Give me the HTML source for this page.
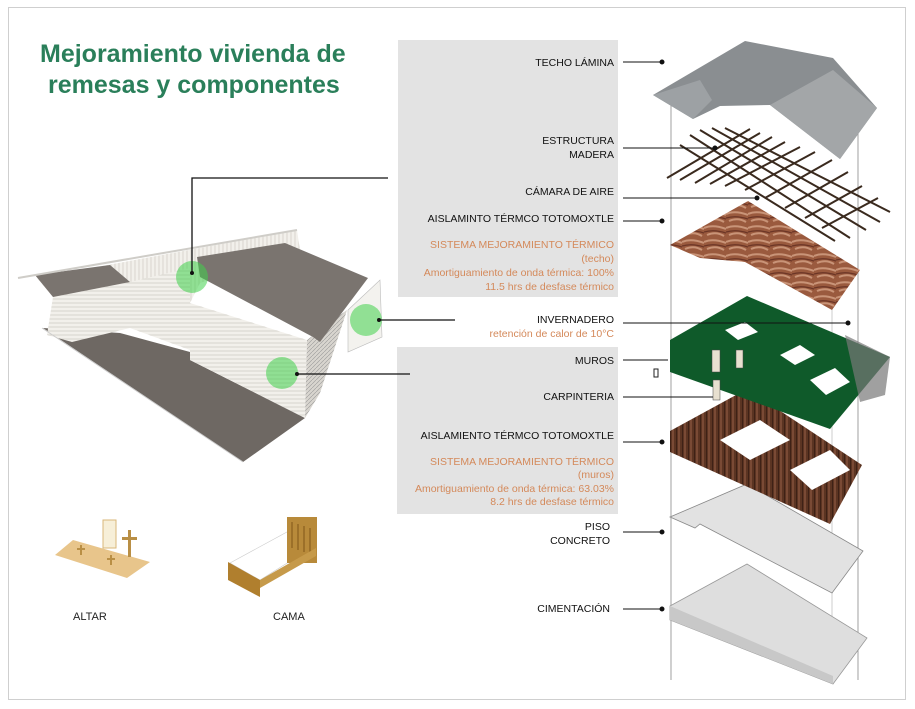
<!DOCTYPE html>
<html><head><meta charset="utf-8"><style>
html,body{margin:0;padding:0;background:#fff;width:915px;height:709px;overflow:hidden}
svg{display:block}
text{font-family:"Liberation Sans",Arial,sans-serif}
.l{font-size:10.5px;fill:#111;text-anchor:end}
.o{font-size:10.5px;fill:#d4895a;text-anchor:end}
</style></head><body>
<svg width="915" height="709" viewBox="0 0 915 709" xmlns="http://www.w3.org/2000/svg">
<defs>
<pattern id="siding" width="8" height="4" patternUnits="userSpaceOnUse"><rect width="8" height="4" fill="#f2f0eb"/><line x1="0" y1="3" x2="8" y2="3" stroke="#c4c0b8" stroke-width="0.6"/></pattern>
<pattern id="vsid" width="4" height="8" patternUnits="userSpaceOnUse"><rect width="4" height="8" fill="#f2f0eb"/><line x1="3" y1="0" x2="3" y2="8" stroke="#c8c4bc" stroke-width="0.6"/></pattern>
<pattern id="dsid" width="4" height="4" patternUnits="userSpaceOnUse"><rect width="4" height="4" fill="#d8d5cf"/><line x1="0" y1="4" x2="4" y2="0" stroke="#999" stroke-width="0.6"/></pattern>
<pattern id="wood" width="6" height="10" patternUnits="userSpaceOnUse"><rect width="6" height="10" fill="#5b3422"/><rect x="0" width="2" height="10" fill="#7a4a35"/><rect x="4" width="1" height="10" fill="#3e2116"/></pattern>
<pattern id="toto" width="22" height="14" patternUnits="userSpaceOnUse"><rect width="22" height="14" fill="#9a5a3e"/><path d="M0 4 Q9 0 22 5 M3 11 Q12 7 20 12" stroke="#c99478" stroke-width="2" fill="none"/><path d="M0 8 Q10 5 22 9" stroke="#6b3526" stroke-width="1.2" fill="none"/></pattern>
</defs>
<rect x="8.5" y="7.5" width="897" height="692" fill="#fff" stroke="#cfcfcf"/>
<text x="40" y="62" font-size="25" font-weight="bold" fill="#2a7f5a">Mejoramiento vivienda de</text>
<text x="48" y="93" font-size="25" font-weight="bold" fill="#2a7f5a">remesas y componentes</text>

<rect x="398" y="40" width="220" height="257" fill="#e3e3e3"/>
<rect x="397" y="347" width="221" height="167" fill="#e3e3e3"/>

<!-- house left -->
<polygon points="37,278 297,230 300,250 200,283 190,303 130,300 53,297" fill="url(#vsid)"/>
<polygon points="43,328 120,333 190,352 190,360 305,418 243,462" fill="#6e6863"/>
<polygon points="53,297 130,282 130,328 72,342 47,335" fill="url(#siding)"/>
<polygon points="130,282 190,268 190,350 130,328" fill="url(#siding)"/>
<polygon points="190,303 307,340 305,418 190,360" fill="url(#siding)"/>
<polygon points="307,340 347,310 320,393 305,418" fill="url(#dsid)"/>
<polygon points="348,310 380,280 382,337 348,352" fill="#f3f2ee" stroke="#bbb" stroke-width="0.6"/>
<polygon points="35,275 110,265 130,282 53,297" fill="#7a746f"/>
<line x1="18" y1="278" x2="297" y2="230" stroke="#cfcdc8" stroke-width="2"/>
<polygon points="197,257 285,243 368,278 320,342 313,337 200,277" fill="#7a746f"/>
<line x1="42" y1="328" x2="243" y2="462" stroke="#ccc" stroke-width="1"/>
<circle cx="192" cy="277" r="16" fill="#3fd14a" opacity="0.55"/>
<circle cx="366" cy="320" r="16" fill="#3fd14a" opacity="0.55"/>
<circle cx="282" cy="373" r="16" fill="#3fd14a" opacity="0.55"/>
<g stroke="#111" stroke-width="1.3" fill="none">
<polyline points="192,273 192,178 388,178"/>
<line x1="379" y1="320" x2="455" y2="320"/>
<line x1="297" y1="374" x2="410" y2="374"/>
</g>
<circle cx="192" cy="273" r="2" fill="#111"/><circle cx="379" cy="320" r="2" fill="#111"/><circle cx="297" cy="374" r="2" fill="#111"/>

<!-- altar -->
<polygon points="55,555 73,540 150,562 127,578" fill="#e8c58b"/>
<rect x="103" y="520" width="13" height="28" fill="#f7efd8" stroke="#d9b77a"/>
<rect x="128" y="530" width="3" height="27" fill="#b98f45"/><rect x="122" y="537" width="15" height="3" fill="#b98f45"/>
<rect x="80" y="545" width="2" height="10" fill="#b98f45"/><rect x="77" y="548" width="8" height="2" fill="#b98f45"/>
<rect x="110" y="555" width="2" height="10" fill="#b98f45"/><rect x="107" y="558" width="8" height="2" fill="#b98f45"/>
<text x="73" y="620" font-size="11" fill="#222">ALTAR</text>
<!-- bed -->
<polygon points="230,563 287,532 316,545 260,580" fill="#fff" stroke="#ccc" stroke-width="0.6"/>
<polygon points="228,562 260,580 260,597 228,580" fill="#b07f2e"/>
<rect x="287" y="517" width="30" height="46" fill="#b88a3a"/>
<g stroke="#8a5f1e" stroke-width="1.2"><line x1="292" y1="522" x2="292" y2="548"/><line x1="298" y1="524" x2="298" y2="550"/><line x1="304" y1="526" x2="304" y2="552"/><line x1="310" y1="528" x2="310" y2="554"/></g>
<polygon points="260,580 316,548 316,556 260,588" fill="#c69a4a"/>
<text x="273" y="620" font-size="11" fill="#222">CAMA</text>

<line x1="671" y1="95" x2="671" y2="680" stroke="#888" stroke-width="0.8"/>
<line x1="858" y1="120" x2="858" y2="680" stroke="#888" stroke-width="0.8"/>
<line x1="832" y1="300" x2="832" y2="684" stroke="#aaa" stroke-width="0.6"/>

<!-- foundation -->
<polygon points="670,606 747,564 867,638 833,684 670,620" fill="#dedede" stroke="#999" stroke-width="0.8"/>
<polygon points="670,606 670,620 833,684 833,676" fill="#c8c8c8"/>
<!-- floor -->
<polygon points="670,517 747,484 863,551 832,593 700,524 695,528" fill="#e2e2e2" stroke="#888" stroke-width="0.8"/>
<!-- walls -->
<polygon points="670,431 747,389 862,465 830,524 670,452" fill="url(#wood)"/>
<polygon points="720,440 760,420 790,440 750,460" fill="#fff"/>
<polygon points="790,470 830,450 850,470 812,490" fill="#fff"/>
<!-- green -->
<polygon points="670,340 747,296 890,357 830,429 670,372" fill="#0f5a2a"/>
<polygon points="845,335 890,357 885,395 860,402" fill="#777" opacity="0.7"/>
<polygon points="725,330 745,322 758,332 738,340" fill="#fff"/>
<polygon points="780,355 800,345 815,355 795,365" fill="#fff"/>
<polygon points="810,380 835,368 850,382 826,395" fill="#fff"/>
<rect x="712" y="350" width="8" height="22" fill="#e8e0d0" stroke="#444" stroke-width="0.5"/>
<rect x="736" y="350" width="7" height="18" fill="#e8e0d0" stroke="#444" stroke-width="0.5"/>
<rect x="713" y="380" width="7" height="20" fill="#e8e0d0" stroke="#444" stroke-width="0.5"/>
<rect x="654" y="369" width="4" height="8" fill="#fff" stroke="#222"/>
<!-- totomoxtle -->
<polygon points="670,245 748,201 860,270 832,310 745,262 700,258" fill="url(#toto)"/>
<!-- wood structure -->
<g stroke="#3a2a1e" stroke-width="2">
<line x1="690" y1="135" x2="850" y2="238"/><line x1="700" y1="130" x2="866" y2="230"/><line x1="712" y1="128" x2="880" y2="222"/><line x1="725" y1="128" x2="890" y2="212"/><line x1="680" y1="145" x2="835" y2="241"/>
<line x1="667" y1="178" x2="750" y2="129"/><line x1="680" y1="180" x2="760" y2="133"/><line x1="695" y1="183" x2="772" y2="137"/><line x1="710" y1="184" x2="785" y2="142"/><line x1="725" y1="186" x2="800" y2="147"/><line x1="745" y1="190" x2="815" y2="152"/><line x1="765" y1="198" x2="832" y2="160"/><line x1="785" y1="208" x2="848" y2="172"/><line x1="805" y1="218" x2="862" y2="186"/><line x1="822" y1="228" x2="878" y2="198"/>
</g>
<!-- roof -->
<polygon points="653,95 745,41 833,58 877,108 840,159 770,105 720,106 693,119" fill="#8a8e91"/>
<polygon points="653,95 700,80 712,100 693,119" fill="#9da1a4"/>
<polygon points="770,105 833,70 877,108 840,159" fill="#a3a6a8"/>

<g stroke="#111" stroke-width="1" fill="#111">
<line x1="623" y1="62" x2="662" y2="62"/><circle cx="662" cy="62" r="2"/>
<line x1="623" y1="148" x2="715" y2="148"/><circle cx="715" cy="148" r="2"/>
<line x1="623" y1="198" x2="757" y2="198"/><circle cx="757" cy="198" r="2"/>
<line x1="623" y1="221" x2="662" y2="221"/><circle cx="662" cy="221" r="2"/>
<line x1="623" y1="323" x2="848" y2="323"/><circle cx="848" cy="323" r="2"/>
<line x1="623" y1="360" x2="668" y2="360"/>
<line x1="623" y1="397" x2="713" y2="397"/>
<line x1="623" y1="442" x2="662" y2="442"/><circle cx="662" cy="442" r="2"/>
<line x1="623" y1="532" x2="662" y2="532"/><circle cx="662" cy="532" r="2"/>
<line x1="623" y1="609" x2="662" y2="609"/><circle cx="662" cy="609" r="2"/>
</g>

<text class="l" x="614" y="66">TECHO LÁMINA</text>
<text class="l" x="614" y="144">ESTRUCTURA</text>
<text class="l" x="614" y="158">MADERA</text>
<text class="l" x="614" y="195">CÁMARA DE AIRE</text>
<text class="l" x="614" y="222">AISLAMINTO TÉRMCO TOTOMOXTLE</text>
<text class="o" x="614" y="248">SISTEMA MEJORAMIENTO TÉRMICO</text>
<text class="o" x="614" y="262">(techo)</text>
<text class="o" x="614" y="276">Amortiguamiento de onda térmica: 100%</text>
<text class="o" x="614" y="290">11.5 hrs de desfase térmico</text>
<text class="l" x="614" y="323">INVERNADERO</text>
<text class="o" x="614" y="337">retención de calor de 10°C</text>
<text class="l" x="614" y="364">MUROS</text>
<text class="l" x="614" y="400">CARPINTERIA</text>
<text class="l" x="614" y="439">AISLAMIENTO TÉRMCO TOTOMOXTLE</text>
<text class="o" x="614" y="465">SISTEMA MEJORAMIENTO TÉRMICO</text>
<text class="o" x="614" y="478">(muros)</text>
<text class="o" x="614" y="492">Amortiguamiento de onda térmica: 63.03%</text>
<text class="o" x="614" y="505">8.2 hrs de desfase térmico</text>
<text class="l" x="610" y="530">PISO</text>
<text class="l" x="610" y="544">CONCRETO</text>
<text class="l" x="610" y="612">CIMENTACIÓN</text>
</svg>
</body></html>
